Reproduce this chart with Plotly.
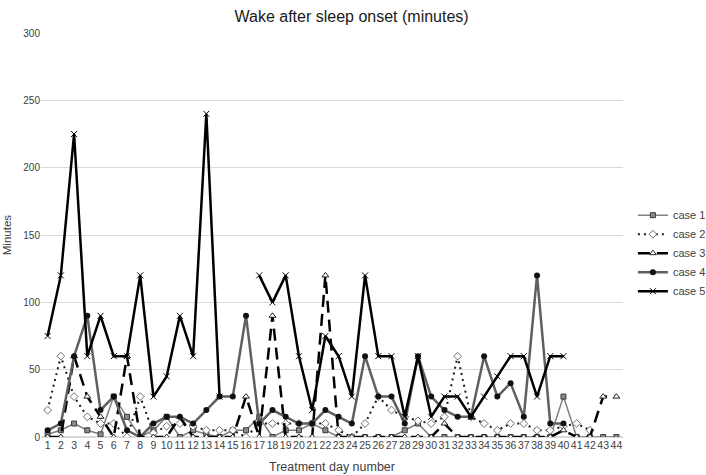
import plotly.graph_objects as go

days = list(range(1, 45))
day_labels = [str(d) for d in days]

case1 = [2, 5, 10, 5, 2, 30, 15, 0, 5, 15, 0, 5, 2, 0, 5, 5, 15, 0, 5, 5, 10, 5, 0, 0, 0, 0, 0, 5, 10, 0,
         0, 0, 0, 0, 0, 0, 0, 0, 0, 30, 0, 0, 0, 0]
case2 = [20, 60, 30, 15, 10, 10, 0, 30, 3, 8, 10, 8, 5, 5, 5, 0, 10, 10, 10, 10, 10, 10, 5, 0, 10, 30, 20, 15, 12, 10,
         15, 60, 15, 10, 5, 10, 10, 5, 5, 8, 10, 5, None, None]
case3 = [0, 0, 60, 30, 15, 0, 60, 0, 0, 0, 15, 0, 0, 0, 0, 30, 0, 90, 0, 0, 0, 120, 0, 0, 0, 0, 0, 0, 0, 0,
         10, 0, 0, 0, 0, 0, 0, 0, 0, 5, 0, 0, 30, 30]
case4 = [5, 10, 60, 90, 20, 30, 5, 0, 10, 15, 15, 10, 20, 30, 30, 90, 10, 20, 15, 10, 10, 20, 15, 10, 60, 30, 30, 10, 60, 30,
         20, 15, 15, 60, 30, 40, 15, 120, 10, 10, None, None, None, None]
case5 = [75, 120, 225, 60, 90, 60, 60, 120, 30, 45, 90, 60, 240, 30, None, None, 120, 100, 120, 60, 20, 75, 60, 30, 120, 60, 60, 15, 60, 15,
         30, 30, 15, 30, 45, 60, 60, 30, 60, 60, None, None, None, None]

series_names = ["case 1", "case 2", "case 3", "case 4", "case 5"]
y_ticks = [0, 50, 100, 150, 200, 250, 300]

FONT = "Liberation Sans, Arial, sans-serif"

fig = go.Figure()

fig.add_trace(go.Scatter(
    x=days, y=case1, name=series_names[0], mode="lines+markers", connectgaps=False,
    line=dict(color="#808080", width=1.5),
    marker=dict(symbol="square", size=5, color="#8a8a8a", line=dict(color="#3a3a3a", width=1)),
))
fig.add_trace(go.Scatter(
    x=days, y=case2, name=series_names[1], mode="lines+markers", connectgaps=False,
    line=dict(color="#1a1a1a", width=2, dash="2px,4px"),
    marker=dict(symbol="diamond", size=6, color="#ffffff", line=dict(color="#707070", width=1)),
))
fig.add_trace(go.Scatter(
    x=days, y=case3, name=series_names[2], mode="lines+markers", connectgaps=False,
    line=dict(color="#000000", width=2.5, dash="12px,7px"),
    marker=dict(symbol="triangle-up", size=6, color="#ffffff", line=dict(color="#222222", width=1)),
))
fig.add_trace(go.Scatter(
    x=days, y=case4, name=series_names[3], mode="lines+markers", connectgaps=False,
    line=dict(color="#5f5f5f", width=2.5),
    marker=dict(symbol="circle", size=6, color="#111111"),
))
fig.add_trace(go.Scatter(
    x=days, y=case5, name=series_names[4], mode="lines+markers", connectgaps=False,
    line=dict(color="#000000", width=2.5),
    marker=dict(symbol="x-thin-open", size=6, color="#000000", line=dict(color="#000000", width=1)),
))

fig.update_layout(
    width=706, height=475,
    margin=dict(l=41, r=83, t=33, b=38, autoexpand=False),
    paper_bgcolor="#ffffff", plot_bgcolor="#ffffff",
    font=dict(family=FONT, color="#404040", size=10),
    title=dict(text="Wake after sleep onset (minutes)", x=0.498, xref="container", xanchor="center",
               y=0.966, yref="container", yanchor="middle",
               font=dict(family=FONT, size=16, color="#1a1a1a")),
    showlegend=True,
    legend=dict(x=1.017, xanchor="left", y=0.455, yanchor="middle",
                font=dict(family=FONT, size=11, color="#404040"),
                itemwidth=30, tracegroupgap=0, bgcolor="rgba(0,0,0,0)"),
    xaxis=dict(
        range=[0.5, 44.5], tickmode="array", tickvals=days, ticktext=day_labels,
        showgrid=False, zeroline=False, showline=False, ticks="", automargin=False,
        tickfont=dict(family=FONT, size=10.5, color="#404040"), tickangle=0,
    ),
    yaxis=dict(
        range=[0, 300], tickmode="array", tickvals=y_ticks, ticktext=[str(v) for v in y_ticks],
        showgrid=True, gridcolor="#d9d9d9", gridwidth=1, zeroline=True, zerolinecolor="#d9d9d9",
        showline=False, ticks="", automargin=False,
        tickfont=dict(family=FONT, size=10, color="#404040"),
    ),
    annotations=[
        dict(text="Treatment day number", xref="paper", yref="paper", x=0.5, y=-0.075,
             xanchor="center", yanchor="middle", showarrow=False,
             font=dict(family=FONT, size=12.5, color="#404040")),
        dict(text="Minutes", xref="paper", yref="paper", x=-0.058, y=0.5, textangle=-90,
             xanchor="center", yanchor="middle", showarrow=False,
             font=dict(family=FONT, size=11.5, color="#404040")),
    ],
)

fig.write_html("out.html", config={"displayModeBar": False},
               post_script="document.body.style.margin='0';document.body.style.overflow='hidden';")
